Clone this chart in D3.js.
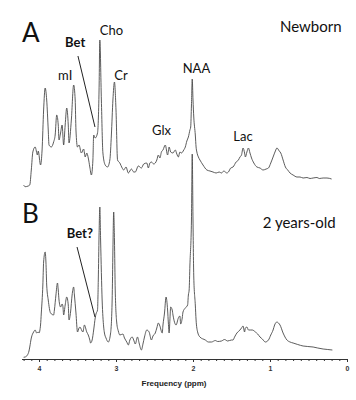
<!DOCTYPE html>
<html>
<head>
<meta charset="utf-8">
<script src="https://cdn.jsdelivr.net/npm/d3@7"></script>
<style>
  body { margin: 0; background: #fff; }
  svg { display: block; }
</style>
</head>
<body>
<div id="chart"></div>
<script>
// spectrum A (newborn): chemical shift (ppm) and signal (arbitrary units)
const ppmA = [4.20,4.18,4.14,4.12,4.10,4.08,4.05,4.02,4.01,3.98,3.96,3.94,3.92,3.90,3.88,3.87,3.84,3.81,3.79,3.77,3.75,3.74,3.72,3.70,3.68,3.66,3.64,3.62,3.61,3.58,3.55,3.53,3.52,3.50,3.48,3.45,3.42,3.40,3.38,3.36,3.34,3.32,3.30,3.29,3.27,3.24,3.22,3.21,3.19,3.17,3.14,3.11,3.08,3.06,3.04,3.02,3.00,2.98,2.95,2.92,2.90,2.87,2.84,2.80,2.77,2.75,2.71,2.67,2.64,2.60,2.58,2.56,2.54,2.51,2.47,2.45,2.43,2.41,2.39,2.36,2.33,2.31,2.29,2.26,2.23,2.21,2.19,2.17,2.15,2.12,2.10,2.08,2.06,2.04,2.03,2.02,2.01,2.00,1.99,1.97,1.96,1.95,1.93,1.91,1.87,1.82,1.78,1.74,1.70,1.66,1.63,1.60,1.56,1.54,1.51,1.48,1.44,1.41,1.39,1.37,1.35,1.33,1.32,1.30,1.28,1.26,1.24,1.21,1.17,1.13,1.09,1.05,1.02,0.99,0.96,0.93,0.91,0.88,0.86,0.83,0.80,0.77,0.74,0.70,0.65,0.61,0.57,0.52,0.48,0.44,0.39,0.36,0.31,0.26,0.20];
const sigA = [5,3.3,4,5,20,38,43,35,39,25,40,80,102,90,60,45,43,48,55,75,65,50,57,65,45,65,82,65,47,70,105,90,60,43,45,37,41,33,37,32,23,15,30,55,52,57,100,150,90,37,25,23,30,55,90,108,80,30,27,22,20,23,17,21,18,18,24,22,26,27,22,27,28,26,30,35,32,38,40,45,35,43,38,37,40,36,33,38,37,40,43,49,53,60,63,85,111,90,73,55,43,38,33,30,25,20,19,18,17,18,17,19,17,18,22,23,28,30,33,35,42,37,33,38,42,37,32,27,23,22,20,21,22,27,33,39,42,39,37,30,23,20,17,15,13,13,12,12.5,11.5,12,12.5,11.5,12,12,11];

// spectrum B (2 years-old)
const ppmB = [4.20,4.18,4.15,4.13,4.12,4.10,4.07,4.05,4.03,4.01,4.00,3.98,3.97,3.95,3.94,3.92,3.91,3.90,3.88,3.85,3.81,3.80,3.78,3.76,3.75,3.74,3.72,3.70,3.69,3.68,3.66,3.64,3.62,3.61,3.59,3.57,3.55,3.54,3.52,3.50,3.48,3.47,3.43,3.41,3.38,3.36,3.34,3.33,3.31,3.29,3.27,3.26,3.24,3.23,3.22,3.21,3.20,3.18,3.16,3.15,3.13,3.10,3.07,3.05,3.04,3.03,3.02,3.01,2.99,2.97,2.95,2.91,2.89,2.86,2.84,2.82,2.79,2.77,2.75,2.72,2.70,2.67,2.65,2.63,2.60,2.57,2.54,2.52,2.49,2.47,2.45,2.43,2.40,2.39,2.37,2.35,2.33,2.32,2.31,2.30,2.29,2.27,2.26,2.22,2.19,2.17,2.16,2.14,2.13,2.10,2.07,2.06,2.05,2.04,2.02,2.01,2.00,1.99,1.97,1.96,1.94,1.91,1.84,1.80,1.76,1.71,1.68,1.63,1.59,1.55,1.50,1.48,1.46,1.43,1.39,1.37,1.35,1.33,1.32,1.30,1.28,1.25,1.23,1.19,1.16,1.13,1.10,1.06,1.02,0.99,0.96,0.94,0.91,0.89,0.87,0.83,0.78,0.74,0.70,0.64,0.57,0.51,0.44,0.38,0.31,0.25,0.19];
const sigB = [0.7,1,3,7,11,20,26,28,25,26,25,33,45,73,96,106,96,73,58,45,43,48,63,75,68,58,51,54,52,43,53,61,53,38,46,63,71,63,45,26,30,31,26,33,26,23,18,15,18,28,40,44,48,78,123,151,118,58,31,25,20,16,25,58,108,146,118,68,35,27,23,24,20,16,13,18,21,18,14,21,15,8,14,21,28,26,18,22,25,30,35,32,25,33,45,61,48,35,25,38,51,48,43,33,40,42,34,40,46,50,53,63,68,93,138,204,138,81,53,38,26,21,18,16,16,17.5,16.5,17,18.5,17,18,18,21,25,28,30,32,26,30,31,28,28,28,26,24,21,19,16,18,23,28,33,36,35,33,25,18,16,15,13.5,12,11.5,11,10,9,8.5,8];

const tickMajor = [4, 3, 2, 1, 0];

// text annotations (ppm, signal) per panel
const labelsA = [
  { t: "mI", ppm: 3.66, v: 110 },
  { t: "Bet", ppm: 3.53, v: 143, bold: true },
  { t: "Cho", ppm: 3.06, v: 155 },
  { t: "Cr", ppm: 2.935, v: 110 },
  { t: "Glx", ppm: 2.41, v: 55 },
  { t: "NAA", ppm: 1.955, v: 117 },
  { t: "Lac", ppm: 1.35, v: 49 },
  { t: "Newborn", ppm: 0.47, v: 158.5, big: true }
];
const labelsB = [
  { t: "Bet?", ppm: 3.47, v: 120, bold: true },
  { t: "2 years-old", ppm: 0.62, v: 130, big: true }
];

const W = 356, H = 400;
const svg = d3.select("#chart").append("svg")
  .attr("width", W).attr("height", H);

const x = d3.scaleLinear().domain([4.2, 0]).range([23.6, 347]);
const yA = d3.scaleLinear().domain([0, 170]).range([190, 20]);
const yB = d3.scaleLinear().domain([0, 170]).range([358, 188]);

function drawPanel(ppm, sig, y, labels, letter, pointer) {
  const pts = ppm.map((p, i) => [p, sig[i]]);
  svg.append("path")
    .datum(pts)
    .attr("fill", "none")
    .attr("stroke", "#4a4a4a")
    .attr("stroke-width", 0.9)
    .attr("stroke-linejoin", "round")
    .attr("d", d3.line().curve(d3.curveMonotoneX).x(d => x(d[0])).y(d => y(d[1])));

  svg.append("text")
    .attr("x", x(4.22)).attr("y", y(letter.v))
    .style("font-family", "Lato, 'Open Sans', sans-serif")
    .style("font-size", "26px")
    .style("fill", "#111")
    .text(letter.t);

  svg.selectAll(null)
    .data(labels)
    .enter().append("text")
    .attr("x", d => x(d.ppm))
    .attr("y", d => y(d.v))
    .attr("text-anchor", "middle")
    .style("font-family", "Lato, 'Open Sans', sans-serif")
    .style("font-size", d => d.big ? "15px" : "13px")
    .style("font-weight", d => d.bold ? "bold" : "normal")
    .style("fill", "#111")
    .text(d => d.t);

  svg.append("line")
    .attr("x1", x(pointer[0])).attr("y1", y(pointer[1]))
    .attr("x2", x(pointer[2])).attr("y2", y(pointer[3]))
    .attr("stroke", "#222")
    .attr("stroke-width", 1);
}

drawPanel(ppmA, sigA, yA, labelsA, { t: "A", v: 148 }, [3.494, 134, 3.273, 63]);
drawPanel(ppmB, sigB, yB, labelsB, { t: "B", v: 135 }, [3.506, 111, 3.273, 41]);

// axis
const axisY = 359;
const minor = d3.range(0, 43).map(i => i / 10);
svg.append("g")
  .attr("transform", `translate(0, ${axisY})`)
  .call(d3.axisBottom(x).tickValues(minor).tickSize(2).tickFormat(""))
  .call(g => g.select(".domain").attr("d", `M22,0.5H348`).attr("stroke", "#333"))
  .call(g => g.selectAll(".tick line").attr("stroke", "#333"));

svg.append("g")
  .attr("transform", `translate(0, ${axisY})`)
  .call(d3.axisBottom(x).tickValues(tickMajor).tickSize(3).tickPadding(4).tickFormat(d3.format("d")))
  .call(g => g.select(".domain").remove())
  .call(g => g.selectAll(".tick line").attr("stroke", "#333"))
  .call(g => g.selectAll(".tick text")
    .style("font-family", "'Liberation Sans', Arial, sans-serif")
    .style("font-size", "7px")
    .style("font-weight", "bold")
    .style("fill", "#333"));

svg.append("text")
  .attr("x", 174).attr("y", 386)
  .attr("text-anchor", "middle")
  .style("font-family", "'Liberation Sans', Arial, sans-serif")
  .style("font-size", "8px")
  .style("font-weight", "bold")
  .style("fill", "#222")
  .text("Frequency (ppm)");
</script>
</body>
</html>
